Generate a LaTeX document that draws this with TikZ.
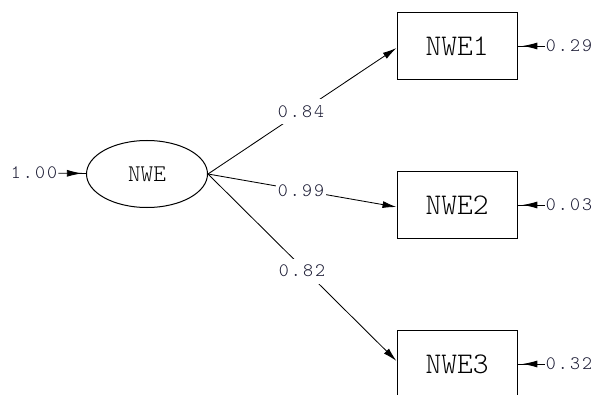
\documentclass[tikz,border=0pt]{standalone}
\usepackage{fontspec}
\usetikzlibrary{arrows.meta,decorations.markings,shapes.geometric}
\definecolor{numcol}{RGB}{25,25,50}
\newfontfamily\lightmono{lmmonolt10-regular.otf}
\newfontfamily\spacedmono[LetterSpace=11]{lmmonolt10-regular.otf}
\newcommand\numfont{\fontsize{19}{19}\spacedmono}
\begin{document}
\begin{tikzpicture}[x=1pt,y=1pt,
  latent/.style={ellipse,draw,line width=1pt,minimum width=121pt,minimum height=67pt,
    inner sep=0pt,font=\fontsize{24}{24}\lightmono},
  observed/.style={rectangle,draw,line width=1pt,minimum width=120pt,minimum height=67pt,
    inner sep=0pt,font=\fontsize{30}{30}\lightmono},
  coef/.style={fill=white,inner xsep=2pt,inner ysep=0pt,minimum height=25pt,
    text=numcol,font=\numfont},
  errval/.style={inner sep=1pt,text=numcol,font=\numfont},
  loading/.style={line width=0.85pt,-{Latex[length=14pt,width=7pt]}},
  errarrow/.style={line width=0.85pt,postaction={decorate},
    decoration={markings,mark=at position #1 with {\arrow{Latex[length=15pt,width=7pt]}}}},
]
\useasboundingbox (0,0) rectangle (593,394);
\clip (0,0) rectangle (593,394);

% latent factor and its indicators
\node[latent]   (nwe) at (147,220) {NWE};
\node[observed] (b1)  at (457,348) {NWE1};
\node[observed] (b2)  at (457,189) {NWE2};
\node[observed] (b3)  at (457,30)  {NWE3};

% error variances
\node[errval] (e0) at (34,221) {1.00};
\node[errval] (e1) at (569,348) {0.29};
\node[errval] (e2) at (569,189) {0.03};
\node[errval] (e3) at (569,30)  {0.32};

% factor loadings
\draw[loading] (nwe.east) -- ([yshift=-2pt]b1.west);
\draw[loading] (nwe.east) -- ([yshift=-2pt]b2.west);
\draw[loading] (nwe.east) -- ([yshift=3pt]b3.west);

\draw[errarrow=0.85] (e0) -- (nwe);
\draw[errarrow=0.82] (e1) -- (b1);
\draw[errarrow=0.82] (e2) -- (b2);
\draw[errarrow=0.82] (e3) -- (b3);

% loading values, set over the lines
\node[coef] (l1) at (301,282) {0.84};
\node[coef] (l2) at (301,203) {0.99};
\node[coef] (l3) at (302,123) {0.82};
\end{tikzpicture}
\end{document}
